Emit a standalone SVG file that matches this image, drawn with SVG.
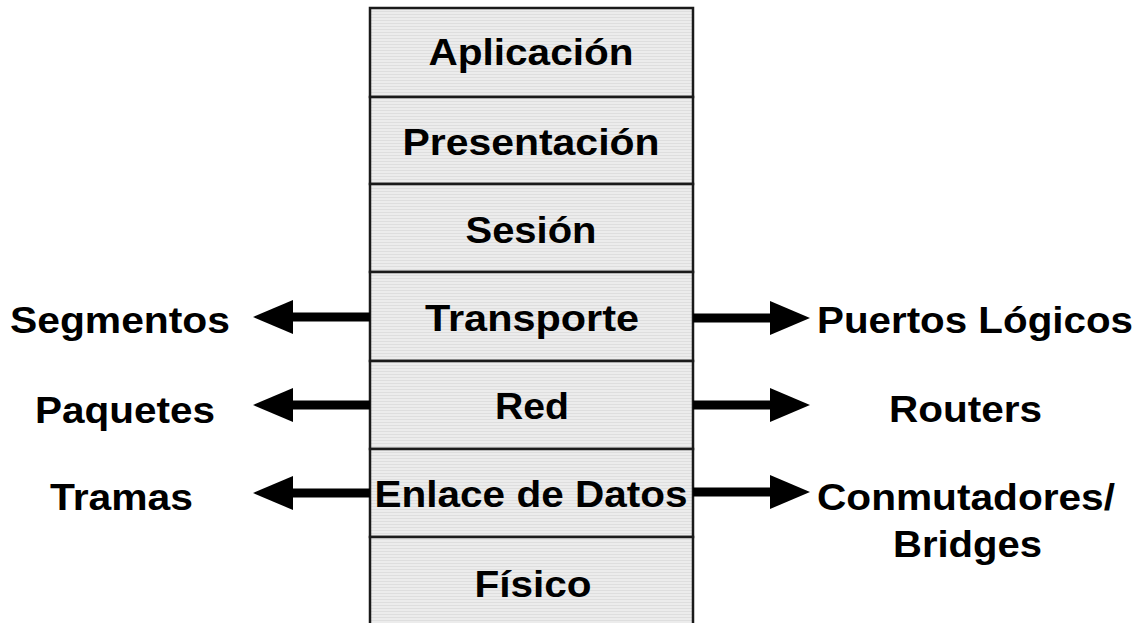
<svg xmlns="http://www.w3.org/2000/svg" width="1145" height="623" viewBox="0 0 1145 623">
  <style>
    .layer { fill: #ebebeb; stroke: #1a1a1a; stroke-width: 2.5; }
    .t { font-family: "Liberation Sans", Arial, sans-serif; font-weight: bold; font-size: 37px; fill: #000; }
    .c { text-anchor: middle; }
    .conn { stroke: #000; stroke-width: 9; fill: none; marker-end: url(#head); }
  </style>
  <defs>
    <pattern id="scan" width="6" height="3" patternUnits="userSpaceOnUse">
      <rect width="6" height="3" fill="#ececec"/>
      <line x1="0" y1="2.5" x2="6" y2="2.5" stroke="#dedede" stroke-width="1"/>
    </pattern>
    <marker id="head" markerUnits="userSpaceOnUse" markerWidth="42" markerHeight="36" refX="0" refY="17" orient="auto">
      <path d="M0,0 L40,17 L0,34 Z" fill="#000"/>
    </marker>
  </defs>
  <rect width="1145" height="623" fill="#fff"/>

  <g id="aplicacion">
    <rect class="layer" x="370" y="8" width="323" height="89" style="fill:url(#scan)"/>
    <text class="t c" x="531" y="65" textLength="205" lengthAdjust="spacingAndGlyphs">Aplicación</text>
  </g>
  <g id="presentacion">
    <rect class="layer" x="370" y="97" width="323" height="87" style="fill:url(#scan)"/>
    <text class="t c" x="531" y="155" textLength="257" lengthAdjust="spacingAndGlyphs">Presentación</text>
  </g>
  <g id="sesion">
    <rect class="layer" x="370" y="184" width="323" height="88" style="fill:url(#scan)"/>
    <text class="t c" x="531" y="243" textLength="131" lengthAdjust="spacingAndGlyphs">Sesión</text>
  </g>
  <g id="transporte">
    <rect class="layer" x="370" y="272" width="323" height="89" style="fill:url(#scan)"/>
    <text class="t c" x="532" y="331" textLength="214" lengthAdjust="spacingAndGlyphs">Transporte</text>
  </g>
  <g id="red">
    <rect class="layer" x="370" y="361" width="323" height="88" style="fill:url(#scan)"/>
    <text class="t c" x="532" y="419" textLength="74" lengthAdjust="spacingAndGlyphs">Red</text>
  </g>
  <g id="enlace">
    <rect class="layer" x="370" y="449" width="323" height="88" style="fill:url(#scan)"/>
    <text class="t c" x="531" y="507" textLength="313" lengthAdjust="spacingAndGlyphs">Enlace de Datos</text>
  </g>
  <g id="fisico">
    <rect class="layer" x="370" y="537" width="323" height="90" style="fill:url(#scan)"/>
    <text class="t c" x="533" y="597" textLength="117" lengthAdjust="spacingAndGlyphs">Físico</text>
  </g>

  <g id="segmentos"><text class="t" x="10" y="333" textLength="220" lengthAdjust="spacingAndGlyphs">Segmentos</text></g>
  <g id="paquetes"><text class="t" x="35" y="423" textLength="180" lengthAdjust="spacingAndGlyphs">Paquetes</text></g>
  <g id="tramas"><text class="t" x="50" y="510" textLength="143" lengthAdjust="spacingAndGlyphs">Tramas</text></g>
  <g id="puertos"><text class="t" x="817" y="333" textLength="316" lengthAdjust="spacingAndGlyphs">Puertos Lógicos</text></g>
  <g id="routers"><text class="t" x="889" y="422" textLength="153" lengthAdjust="spacingAndGlyphs">Routers</text></g>
  <g id="conmutadores">
    <text class="t" x="817" y="510" textLength="298" lengthAdjust="spacingAndGlyphs">Conmutadores/</text>
    <text class="t" x="893" y="557" textLength="149" lengthAdjust="spacingAndGlyphs">Bridges</text>
  </g>

  <g id="connectors">
    <line class="conn" x1="370" y1="317" x2="293" y2="317"/>
    <line class="conn" x1="370" y1="405" x2="293" y2="405"/>
    <line class="conn" x1="370" y1="493" x2="293" y2="493"/>
    <line class="conn" x1="693" y1="318" x2="770" y2="318"/>
    <line class="conn" x1="693" y1="405" x2="770" y2="405"/>
    <line class="conn" x1="693" y1="492" x2="770" y2="492"/>
  </g>
</svg>
